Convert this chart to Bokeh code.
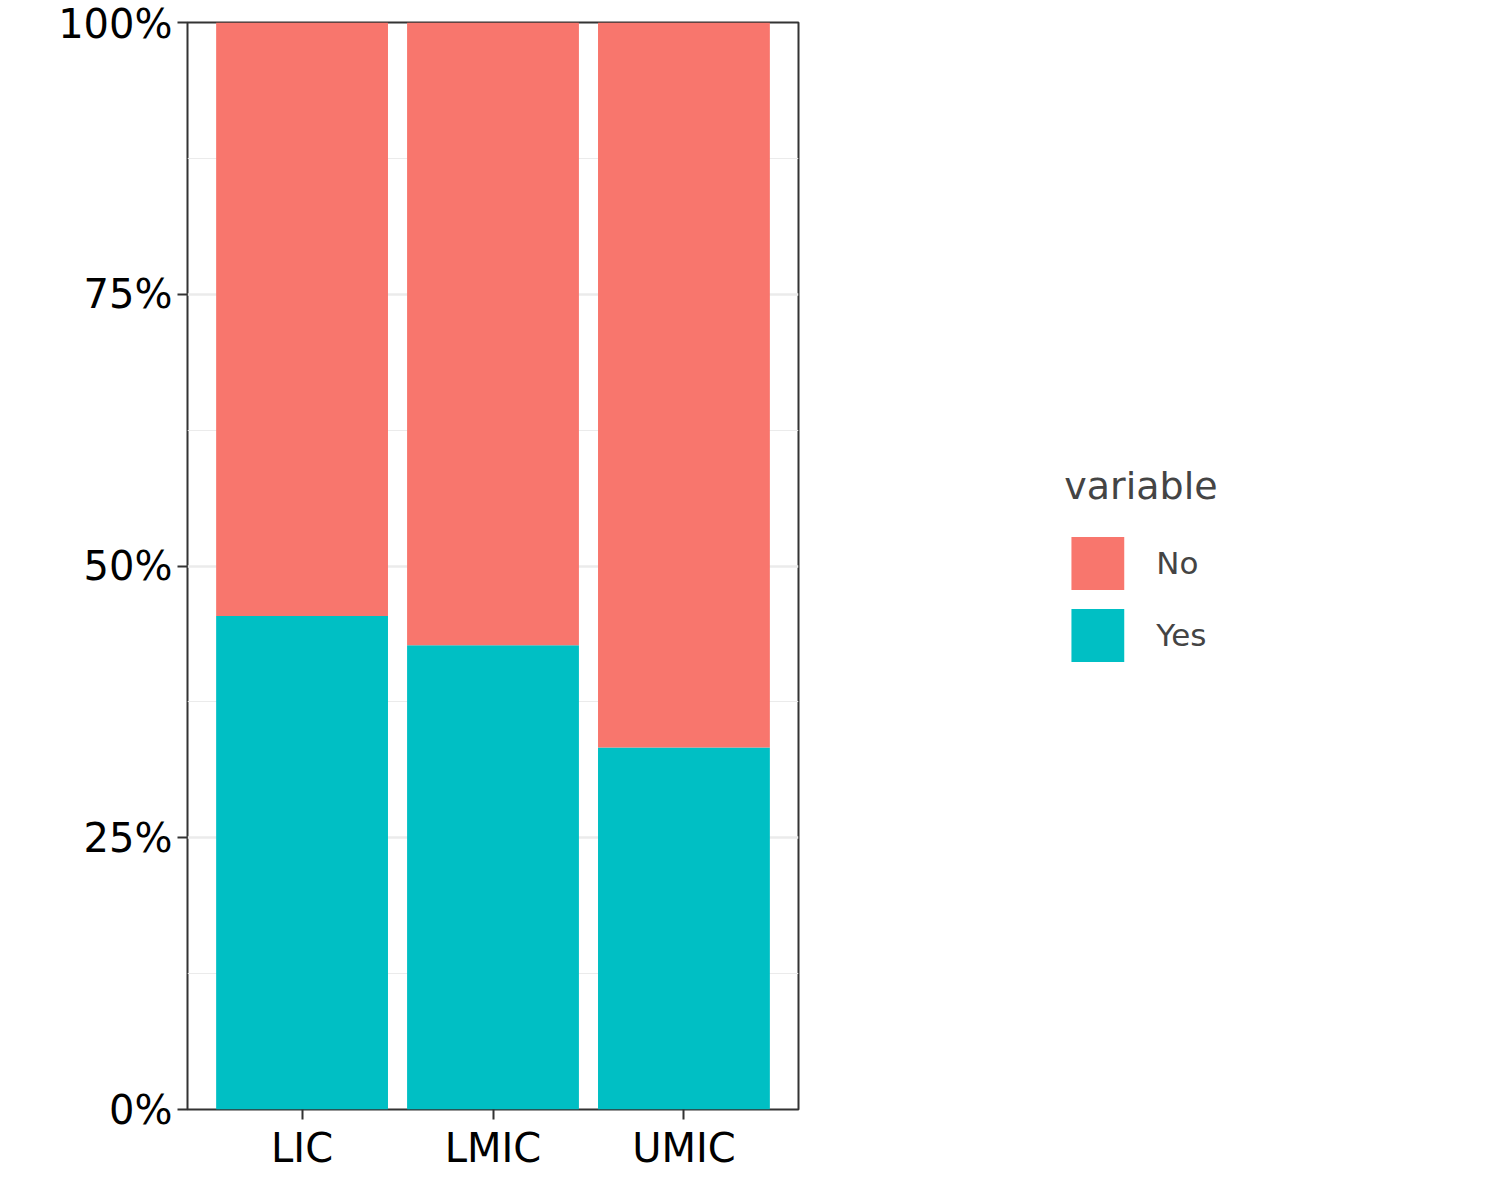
from bokeh.plotting import figure
from bokeh.models import ColumnDataSource, Legend, LegendItem, FixedTicker, Range1d
from bokeh.embed import file_html
from bokeh.resources import INLINE

categories = ["LIC", "LMIC", "UMIC"]
yes_share = [0.454, 0.427, 0.333]
no_share = [1 - v for v in yes_share]
y_ticks = [0, 0.25, 0.5, 0.75, 1.0]
y_labels = ["0%", "25%", "50%", "75%", "100%"]

xs = [i + 1 for i in range(len(categories))]
src = ColumnDataSource(dict(x=xs, yes=yes_share, top=[1.0] * 3))

p = figure(width=1484, height=1180, output_backend="svg", toolbar_location=None,
           x_range=Range1d(0.4, 3.6), y_range=Range1d(0, 1),
           min_border_left=187, min_border_right=284, min_border_top=22, min_border_bottom=71)
r_yes = p.vbar(x="x", width=0.9, bottom=0, top="yes", source=src, color="#00BFC4", line_color=None)
r_no = p.vbar(x="x", width=0.9, bottom="yes", top="top", source=src, color="#F8766D", line_color=None)

p.xaxis.ticker = FixedTicker(ticks=xs)
p.xaxis.major_label_overrides = {x: c for x, c in zip(xs, categories)}
p.yaxis.ticker = FixedTicker(ticks=y_ticks, minor_ticks=[0.125, 0.375, 0.625, 0.875])
p.yaxis.major_label_overrides = {t: l for t, l in zip(y_ticks, y_labels)}
for ax in (p.xaxis, p.yaxis):
    ax.major_label_text_font = "DejaVu Sans"
    ax.major_label_text_font_size = "40px"
    ax.major_label_text_color = "black"
    ax.axis_line_color = None
    ax.major_tick_line_color = "#333333"
    ax.major_tick_line_width = 2
    ax.major_tick_out = 10
    ax.major_tick_in = 0
    ax.minor_tick_line_color = None
p.xgrid.grid_line_color = None
p.ygrid.grid_line_color = "#EBEBEB"
p.ygrid.grid_line_width = 2.5
p.ygrid.minor_grid_line_color = "#EBEBEB"
p.ygrid.minor_grid_line_width = 1.2
p.outline_line_color = "#333333"
p.outline_line_width = 2

legend = Legend(items=[LegendItem(label="No", renderers=[r_no]), LegendItem(label="Yes", renderers=[r_yes])],
                title="variable", location="center", padding=0, margin=55,
                border_line_color=None, background_fill_alpha=0,
                glyph_width=66, glyph_height=66, label_height=66, spacing=6,
                label_standoff=26, title_standoff=22,
                title_text_font="DejaVu Sans", title_text_font_size="38px", title_text_font_style="normal",
                label_text_font="DejaVu Sans", label_text_font_size="31px")
p.add_layout(legend, "right")

open("out.html", "w").write(file_html(p, INLINE))
